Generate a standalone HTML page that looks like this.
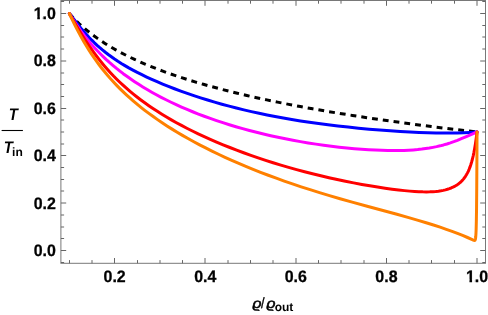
<!DOCTYPE html>
<html><head><meta charset="utf-8"><title>plot</title>
<style>
html,body{margin:0;padding:0;background:#fff;}
body{width:488px;height:315px;overflow:hidden;font-family:"Liberation Sans",sans-serif;}
svg{display:block;will-change:transform;}
text{font-family:"Liberation Sans",sans-serif;fill:#000;text-rendering:geometricPrecision;}
.tl{font-weight:bold;font-size:16.6px;stroke:#000;stroke-width:0.3px;}
.c{fill:none;stroke-width:3.0;stroke-linejoin:round;stroke-linecap:round;}
</style></head><body>
<svg width="488" height="315" viewBox="0 0 488 315">
<rect x="0" y="0" width="488" height="315" fill="#fff"/>
<path class="c" d="M69.32,13.50 L71.77,16.21 L74.21,18.78 L76.66,21.23 L79.31,23.76 L81.97,26.17 L84.82,28.65 L87.88,31.17 L90.94,33.58 L94.20,36.03 L97.47,38.37 L100.93,40.74 L104.60,43.14 L108.27,45.44 L112.15,47.75 L116.23,50.08 L120.51,52.41 L125.00,54.75 L129.69,57.09 L134.58,59.42 L139.68,61.74 L144.99,64.05 L150.49,66.34 L156.20,68.61 L162.12,70.86 L168.24,73.10 L174.76,75.37 L181.49,77.62 L188.43,79.84 L195.77,82.09 L203.32,84.30 L211.27,86.53 L219.63,88.78 L228.40,91.04 L237.38,93.25 L246.76,95.47 L256.55,97.68 L266.75,99.89 L277.55,102.13 L288.77,104.36 L300.40,106.57 L312.63,108.80 L325.28,111.01 L338.54,113.22 L352.41,115.44 L366.89,117.66 L381.98,119.88 L397.68,122.09 L414.20,124.32 L431.33,126.53 L449.28,128.75 L468.05,130.97 L477.02,132.00" stroke="#000" stroke-dasharray="5.85 5.015" stroke-dashoffset="0.15" style="stroke-width:3;stroke-linecap:butt"/>
<path class="c" d="M69.32,13.50 L72.46,17.46 L77.78,24.23 L80.92,28.11 L83.83,31.54 L86.49,34.55 L89.14,37.43 L91.80,40.18 L94.46,42.79 L97.12,45.28 L99.78,47.66 L102.44,49.92 L105.34,52.27 L108.24,54.51 L111.39,56.82 L114.53,59.02 L117.91,61.27 L121.30,63.42 L124.93,65.61 L128.79,67.85 L132.90,70.11 L137.25,72.40 L141.85,74.71 L146.68,77.03 L151.76,79.37 L157.08,81.71 L162.64,84.05 L168.44,86.40 L174.49,88.74 L180.77,91.08 L187.30,93.40 L193.83,95.63 L200.60,97.84 L207.61,100.03 L214.62,102.13 L221.87,104.19 L229.12,106.16 L236.38,108.03 L243.87,109.87 L251.37,111.62 L259.10,113.32 L267.08,114.98 L275.06,116.54 L283.28,118.06 L291.74,119.52 L300.44,120.93 L309.39,122.28 L318.58,123.56 L328.00,124.79 L337.92,125.99 L348.07,127.11 L358.47,128.17 L369.10,129.15 L379.74,130.04 L390.14,130.81 L400.29,131.47 L409.96,132.01 L419.15,132.43 L427.85,132.74 L435.99,132.93 L443.63,133.02 L450.79,133.02 L457.53,132.91 L463.87,132.73 L469.88,132.45 L475.59,132.10 L477.02,132.00" stroke="#0000ff"/>
<path class="c" d="M69.32,13.50 L71.74,17.48 L74.16,21.30 L76.57,24.95 L78.99,28.45 L81.41,31.79 L83.83,35.01 L86.49,38.39 L89.14,41.62 L91.80,44.72 L94.46,47.69 L97.36,50.80 L100.27,53.78 L103.17,56.63 L106.31,59.60 L109.45,62.44 L112.84,65.37 L116.22,68.19 L119.61,70.89 L123.23,73.67 L126.86,76.33 L130.73,79.06 L134.60,81.69 L138.71,84.36 L142.82,86.94 L147.17,89.55 L151.76,92.20 L156.35,94.74 L161.19,97.31 L166.02,99.77 L171.10,102.26 L176.18,104.64 L181.50,107.04 L187.06,109.44 L192.62,111.74 L198.42,114.04 L204.22,116.24 L210.27,118.44 L216.55,120.62 L222.84,122.70 L229.37,124.76 L235.89,126.73 L242.66,128.66 L249.43,130.51 L256.44,132.32 L263.45,134.03 L270.71,135.71 L277.96,137.29 L285.45,138.82 L292.95,140.26 L300.44,141.61 L308.18,142.91 L315.92,144.11 L323.65,145.21 L331.39,146.22 L339.13,147.14 L346.86,147.97 L354.36,148.67 L361.61,149.26 L368.62,149.74 L375.39,150.11 L381.68,150.36 L387.72,150.52 L393.52,150.58 L398.84,150.54 L403.92,150.42 L408.75,150.21 L413.35,149.91 L417.70,149.55 L421.81,149.11 L425.68,148.60 L429.30,148.05 L433.00,147.38 L436.59,146.65 L440.10,145.83 L443.52,144.93 L446.92,143.95 L450.32,142.86 L453.78,141.65 L457.40,140.29 L461.34,138.69 L466.34,136.54 L473.23,133.54 L476.36,132.25 L477.02,132.00" stroke="#ff00ff"/>
<path class="c" d="M69.32,13.50 L76.09,25.17 L79.47,30.85 L82.62,35.96 L85.52,40.50 L88.42,44.87 L91.08,48.72 L93.74,52.43 L96.40,56.00 L99.06,59.44 L101.96,63.03 L104.86,66.48 L107.76,69.79 L110.66,72.97 L113.56,76.03 L116.71,79.20 L119.85,82.26 L122.99,85.19 L126.38,88.22 L129.76,91.14 L133.39,94.14 L137.01,97.02 L140.88,99.98 L144.75,102.82 L148.86,105.72 L152.97,108.51 L157.32,111.35 L161.91,114.24 L166.51,117.02 L171.34,119.84 L176.42,122.69 L181.50,125.44 L186.82,128.21 L192.38,131.00 L198.18,133.81 L204.22,136.63 L210.27,139.34 L216.55,142.07 L223.08,144.79 L229.85,147.51 L236.62,150.14 L243.63,152.75 L250.88,155.35 L258.14,157.86 L265.63,160.34 L273.12,162.73 L280.86,165.10 L288.60,167.37 L296.58,169.61 L304.55,171.75 L312.53,173.80 L320.75,175.81 L328.97,177.73 L337.19,179.55 L345.41,181.27 L353.63,182.90 L361.85,184.44 L369.83,185.83 L377.57,187.09 L385.06,188.22 L392.07,189.19 L398.60,190.00 L404.40,190.63 L409.72,191.12 L414.55,191.48 L418.91,191.72 L422.77,191.85 L426.40,191.89 L429.79,191.83 L432.92,191.69 L435.80,191.47 L438.47,191.17 L440.97,190.80 L443.28,190.36 L445.46,189.86 L447.49,189.29 L449.40,188.67 L451.19,187.98 L452.88,187.24 L454.48,186.43 L455.98,185.57 L457.40,184.66 L458.73,183.68 L460.01,182.64 L461.20,181.54 L462.35,180.36 L463.43,179.11 L464.47,177.77 L465.47,176.32 L466.42,174.78 L467.35,173.11 L468.25,171.29 L469.12,169.30 L469.96,167.14 L470.78,164.79 L471.59,162.14 L472.38,159.25 L473.17,155.98 L473.94,152.33 L474.70,148.26 L475.46,143.69 L476.20,138.55 L476.93,132.76 L477.02,132.00" stroke="#ff0000"/>
<path class="c" d="M69.32,13.50 L71.98,19.13 L74.64,24.56 L77.06,29.31 L79.47,33.88 L81.89,38.26 L84.31,42.46 L86.73,46.49 L89.14,50.36 L91.56,54.08 L93.98,57.64 L96.64,61.40 L99.30,65.01 L101.96,68.47 L104.62,71.79 L107.52,75.27 L110.42,78.61 L113.32,81.81 L116.46,85.15 L119.61,88.36 L122.75,91.44 L126.13,94.64 L129.52,97.72 L133.14,100.89 L136.77,103.95 L140.64,107.09 L144.75,110.31 L148.86,113.40 L153.21,116.57 L157.56,119.62 L162.16,122.74 L166.99,125.90 L172.07,129.11 L177.15,132.21 L182.46,135.35 L188.02,138.53 L193.83,141.73 L199.63,144.82 L205.67,147.94 L211.96,151.08 L218.49,154.23 L225.01,157.28 L231.78,160.34 L238.79,163.41 L245.81,166.38 L253.06,169.34 L260.55,172.31 L268.29,175.27 L276.27,178.21 L284.25,181.06 L292.47,183.90 L301.17,186.80 L310.11,189.68 L319.54,192.62 L329.46,195.60 L340.09,198.70 L352.18,202.12 L367.17,206.25 L396.91,214.32 L408.75,217.63 L418.18,220.34 L426.16,222.73 L433.46,225.01 L440.12,227.19 L446.30,229.30 L452.06,231.37 L457.48,233.42 L462.62,235.46 L467.51,237.50 L472.25,239.58 L473.82,240.26 L474.30,240.40 L474.60,240.41 L474.82,240.32 L475.01,240.14 L475.20,239.81 L475.38,239.22 L475.57,238.21 L475.76,236.50 L475.96,233.68 L476.15,229.00 L476.34,221.35 L476.54,208.75 L476.73,188.16 L476.93,154.53 L477.02,132.00" stroke="#ff8000"/>
<rect x="60.9" y="0.5" width="424.60" height="262.80" fill="none" stroke="#787878" stroke-width="1"/>
<path d="M69.50,263.30L69.50,260.10M69.50,0.50L69.50,3.70M92.00,263.30L92.00,260.10M92.00,0.50L92.00,3.70M114.50,263.30L114.50,258.00M114.50,0.50L114.50,5.80M137.50,263.30L137.50,260.10M137.50,0.50L137.50,3.70M160.00,263.30L160.00,260.10M160.00,0.50L160.00,3.70M182.50,263.30L182.50,260.10M182.50,0.50L182.50,3.70M205.00,263.30L205.00,258.00M205.00,0.50L205.00,5.80M228.00,263.30L228.00,260.10M228.00,0.50L228.00,3.70M250.50,263.30L250.50,260.10M250.50,0.50L250.50,3.70M273.00,263.30L273.00,260.10M273.00,0.50L273.00,3.70M296.00,263.30L296.00,258.00M296.00,0.50L296.00,5.80M318.50,263.30L318.50,260.10M318.50,0.50L318.50,3.70M341.00,263.30L341.00,260.10M341.00,0.50L341.00,3.70M364.00,263.30L364.00,260.10M364.00,0.50L364.00,3.70M386.50,263.30L386.50,258.00M386.50,0.50L386.50,5.80M409.00,263.30L409.00,260.10M409.00,0.50L409.00,3.70M431.50,263.30L431.50,260.10M431.50,0.50L431.50,3.70M454.50,263.30L454.50,260.10M454.50,0.50L454.50,3.70M477.00,263.30L477.00,258.00M477.00,0.50L477.00,5.80M60.90,262.50L64.10,262.50M485.50,262.50L482.30,262.50M60.90,250.50L66.20,250.50M485.50,250.50L480.20,250.50M60.90,238.50L64.10,238.50M485.50,238.50L482.30,238.50M60.90,227.00L64.10,227.00M485.50,227.00L482.30,227.00M60.90,215.00L64.10,215.00M485.50,215.00L482.30,215.00M60.90,203.00L66.20,203.00M485.50,203.00L480.20,203.00M60.90,191.00L64.10,191.00M485.50,191.00L482.30,191.00M60.90,179.50L64.10,179.50M485.50,179.50L482.30,179.50M60.90,167.50L64.10,167.50M485.50,167.50L482.30,167.50M60.90,155.50L66.20,155.50M485.50,155.50L480.20,155.50M60.90,144.00L64.10,144.00M485.50,144.00L482.30,144.00M60.90,132.00L64.10,132.00M485.50,132.00L482.30,132.00M60.90,120.00L64.10,120.00M485.50,120.00L482.30,120.00M60.90,108.50L66.20,108.50M485.50,108.50L480.20,108.50M60.90,96.50L64.10,96.50M485.50,96.50L482.30,96.50M60.90,84.50L64.10,84.50M485.50,84.50L482.30,84.50M60.90,73.00L64.10,73.00M485.50,73.00L482.30,73.00M60.90,61.00L66.20,61.00M485.50,61.00L480.20,61.00M60.90,49.00L64.10,49.00M485.50,49.00L482.30,49.00M60.90,37.00L64.10,37.00M485.50,37.00L482.30,37.00M60.90,25.50L64.10,25.50M485.50,25.50L482.30,25.50M60.90,13.50L66.20,13.50M485.50,13.50L480.20,13.50M60.90,1.50L64.10,1.50M485.50,1.50L482.30,1.50" stroke="#666666" stroke-width="1" fill="none"/>
<g opacity="0.999">
<text transform="translate(114.62,282.20) scale(0.96,1)" text-anchor="middle" class="tl">0.2</text>
<text transform="translate(205.22,282.20) scale(0.96,1)" text-anchor="middle" class="tl">0.4</text>
<text transform="translate(295.82,282.20) scale(0.96,1)" text-anchor="middle" class="tl">0.6</text>
<text transform="translate(386.42,282.20) scale(0.96,1)" text-anchor="middle" class="tl">0.8</text>
<text transform="translate(477.02,282.20) scale(0.96,1)" text-anchor="middle" class="tl">1.0</text>
<text transform="translate(55.90,256.00) scale(0.96,1)" text-anchor="end" class="tl">0.0</text>
<text transform="translate(55.90,208.60) scale(0.96,1)" text-anchor="end" class="tl">0.2</text>
<text transform="translate(55.90,161.20) scale(0.96,1)" text-anchor="end" class="tl">0.4</text>
<text transform="translate(55.90,113.80) scale(0.96,1)" text-anchor="end" class="tl">0.6</text>
<text transform="translate(55.90,66.40) scale(0.96,1)" text-anchor="end" class="tl">0.8</text>
<text transform="translate(55.90,19.00) scale(0.96,1)" text-anchor="end" class="tl">1.0</text>
<text transform="translate(13.2,119.8) scale(0.88,1)" text-anchor="middle" style="font-weight:bold;font-style:italic;font-size:16.9px">T</text>
<line x1="1.6" y1="130.5" x2="22.9" y2="130.5" stroke="#000" stroke-width="1.1"/>
<text transform="translate(8.4,152.8) scale(0.88,1)" text-anchor="middle" style="font-weight:bold;font-style:italic;font-size:16.9px">T</text>
<text x="12.1" y="156.1" style="font-weight:bold;font-size:12px">in</text>
<text transform="translate(252.4,307.6) scale(1.14,1)" style="font-style:italic;font-size:13.6px;stroke:#000;stroke-width:0.5px">ϱ</text>
<text transform="translate(260.9,307.8) scale(0.85,1)" style="font-size:15px;stroke:#000;stroke-width:0.35px">/</text>
<text transform="translate(266.5,307.6) scale(1.14,1)" style="font-style:italic;font-size:13.6px;stroke:#000;stroke-width:0.5px">ϱ</text>
<text x="274.7" y="311" style="font-weight:bold;font-size:12px">out</text>
<rect x="33.35" y="16.56" width="3.90" height="3.64" fill="#fff"/>
<rect x="39.87" y="16.56" width="2.79" height="3.64" fill="#fff"/>
<rect x="465.55" y="279.56" width="3.90" height="3.64" fill="#fff"/>
<rect x="472.07" y="279.56" width="2.79" height="3.64" fill="#fff"/>
</g>
</svg>
</body></html>
